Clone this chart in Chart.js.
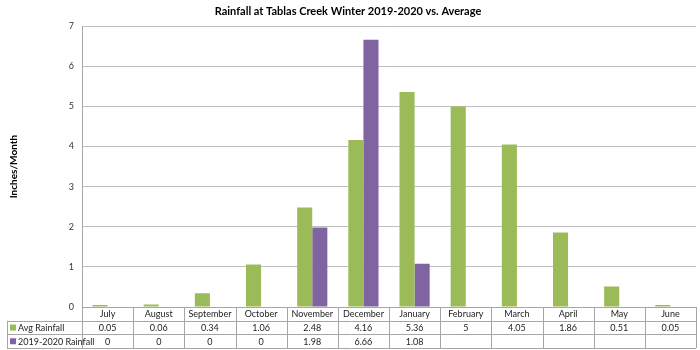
<!DOCTYPE html>
<html>
<head>
<meta charset="utf-8">
<script src="https://cdn.jsdelivr.net/npm/chart.js@4"></script>
<style>
  html, body { margin: 0; padding: 0; background: #fff; }
  #wrap { width: 700px; height: 350px; }
</style>
</head>
<body>
<div id="wrap"><canvas id="chart"></canvas></div>
<script>
const months = ["July", "August", "September", "October", "November", "December",
  "January", "February", "March", "April", "May", "June"];
const avgRainfall = [0.05, 0.06, 0.34, 1.06, 2.48, 4.16, 5.36, 5, 4.05, 1.86, 0.51, 0.05];
const rain2020 = [0, 0, 0, 0, 1.98, 6.66, 1.08, null, null, null, null, null];
const seriesNames = ["Avg Rainfall", "2019-2020 Rainfall"];
const yTicks = [0, 1, 2, 3, 4, 5, 6, 7];

const green = "#9bbb59";
const purple = "#8064a2";

Chart.defaults.font.family = "Lato, 'Liberation Sans', sans-serif";
Chart.defaults.color = "#333";

// data table under the plot, lined up with the x scale
const tablePlugin = {
  id: "dataTable",
  afterDraw(chart) {
    const ctx = chart.ctx;
    const x = chart.scales.x;
    const top = chart.chartArea.bottom;
    const rowH = 13.7;
    const colW = (x.right - x.left) / months.length;
    const leftEdge = 7;
    const bottom = top + rowH * 3;

    ctx.save();
    ctx.strokeStyle = "#a6a6a6";
    ctx.lineWidth = 1;
    ctx.beginPath();
    for (let r = 1; r <= 3; r++) {
      const yy = Math.round(top + rowH * r) + 0.5;
      ctx.moveTo(leftEdge, yy);
      ctx.lineTo(x.right, yy);
    }
    ctx.moveTo(leftEdge + 0.5, top + rowH);
    ctx.lineTo(leftEdge + 0.5, bottom);
    for (let i = 0; i <= months.length; i++) {
      const xx = Math.round(x.left + colW * i) + 0.5;
      ctx.moveTo(xx, top);
      ctx.lineTo(xx, bottom);
    }
    ctx.stroke();

    ctx.font = "9px Lato, 'Liberation Sans', sans-serif";
    ctx.fillStyle = "#222";
    ctx.textAlign = "center";
    ctx.textBaseline = "middle";
    const rows = [avgRainfall, rain2020];
    months.forEach((m, i) => {
      const cx = x.getPixelForValue(i);
      ctx.fillText(m, cx, top + rowH * 0.5 + 0.5);
      rows.forEach((vals, r) => {
        if (vals[i] !== null) ctx.fillText(String(vals[i]), cx, top + rowH * (r + 1.5) + 0.5);
      });
    });

    ctx.textAlign = "left";
    [green, purple].forEach((c, r) => {
      const cy = top + rowH * (r + 1.5);
      ctx.fillStyle = c;
      ctx.fillRect(leftEdge + 3, cy - 3, 6, 6);
      ctx.fillStyle = "#222";
      ctx.fillText(seriesNames[r], leftEdge + 11, cy + 0.5);
    });
    ctx.restore();
  },
};

new Chart(document.getElementById("chart"), {
  type: "bar",
  data: {
    labels: months,
    datasets: [
      { label: seriesNames[0], data: avgRainfall, backgroundColor: green },
      { label: seriesNames[1], data: rain2020, backgroundColor: purple },
    ],
  },
  options: {
    responsive: true,
    maintainAspectRatio: false,
    animation: false,
    layout: { padding: { left: 0, right: 4, top: 0, bottom: 43 } },
    datasets: { bar: { categoryPercentage: 0.59, barPercentage: 1 } },
    scales: {
      x: {
        grid: { display: false },
        border: { display: true, color: "#a6a6a6" },
        ticks: { display: false },
        afterFit: (scale) => { scale.height = 0; },
      },
      y: {
        min: 0,
        max: 7,
        afterBuildTicks: (scale) => { scale.ticks = yTicks.map((v) => ({ value: v })); },
        grid: { color: "#bfbfbf", drawTicks: false },
        border: { display: true, color: "#a6a6a6" },
        ticks: { padding: 8, font: { size: 9 }, color: "#333" },
        title: {
          display: true,
          text: "Inches/Month",
          font: { size: 10, weight: "bold" },
          color: "#000",
          padding: { top: 8, bottom: 0 },
        },
        afterFit: (scale) => { scale.width = 82; },
      },
    },
    plugins: {
      legend: { display: false },
      tooltip: { enabled: false },
      title: {
        display: true,
        text: "Rainfall at Tablas Creek Winter 2019-2020 vs. Average",
        font: { size: 11, weight: "bold" },
        color: "#000",
        padding: { top: 5, bottom: 8 },
      },
    },
  },
  plugins: [tablePlugin],
});
</script>
</body>
</html>
